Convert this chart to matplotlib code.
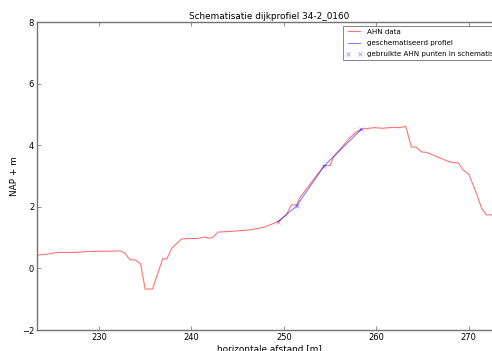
import matplotlib
matplotlib.use("Agg")
import matplotlib.pyplot as plt

# AHN profile
ahn_x = [223.3, 224.5, 225.6, 227.5, 229.0, 230.5, 231.5, 232.3, 232.8, 233.35, 233.9,
         234.5, 235.0, 235.8, 236.9, 237.35, 237.9, 238.9, 239.5, 240.6, 241.5, 241.8,
         242.3, 242.9, 244.2, 246.3, 247.8, 249.4, 250.3, 250.8, 251.4, 251.7, 253.0,
         254.4, 255.0, 255.4, 256.2, 257.1, 257.8, 258.4, 259.8, 260.7, 261.8, 262.5,
         263.2, 263.8, 264.3, 264.9, 265.4, 266.7, 268.0, 268.9, 269.4, 270.0, 270.7,
         271.4, 271.9, 272.4, 273.0]
ahn_y = [0.43, 0.47, 0.52, 0.52, 0.55, 0.56, 0.56, 0.57, 0.50, 0.28, 0.28,
         0.15, -0.67, -0.67, 0.31, 0.31, 0.66, 0.95, 0.97, 0.97, 1.02, 0.98,
         1.00, 1.18, 1.20, 1.25, 1.33, 1.52, 1.75, 2.06, 2.06, 2.28, 2.80,
         3.34, 3.34, 3.63, 3.90, 4.23, 4.42, 4.52, 4.57, 4.55, 4.58, 4.57,
         4.61, 3.94, 3.94, 3.78, 3.77, 3.61, 3.45, 3.42, 3.20, 3.06, 2.55,
         1.96, 1.74, 1.74, 1.65]

# schematised profile
schem_x = [249.4, 251.4, 254.4, 258.4]
schem_y = [1.52, 2.03, 3.34, 4.52]

fig = plt.figure(figsize=(4.92, 3.51), dpi=100)
ax = fig.add_axes([37/492, 21/351, 464/492, 308/351])

ax.plot(ahn_x, ahn_y, color='red', alpha=0.55, lw=0.8, label='AHN data')
ax.plot(schem_x, schem_y, color='blue', alpha=0.5, lw=0.8, label='geschematiseerd profiel')
ax.plot(schem_x, schem_y, 'x', color='blue', alpha=0.4, ms=3, mew=0.6,
        label='gebruikte AHN punten in schematisatie')

ax.set_xlim(223.3, 273.5)
ax.set_ylim(-2, 8)
ax.set_xticks([230, 240, 250, 260, 270])
ax.set_yticks([-2, 0, 2, 4, 6, 8])
ax.tick_params(direction='in', top=True, right=True, labelsize=6, length=3,
               width=0.5, color='0.4', pad=2)
for s in ax.spines.values():
    s.set_color('0.45')
    s.set_linewidth(1.0)

ax.set_title('Schematisatie dijkprofiel 34-2_0160', fontsize=6.4, pad=2)
ax.set_xlabel('horizontale afstand [m]', fontsize=6.4, labelpad=2)
ax.set_ylabel('NAP + m', fontsize=6.4, labelpad=2)

leg = ax.legend(loc='upper right', bbox_to_anchor=(1.02, 0.987), fontsize=5.1,
                numpoints=2, handlelength=2.2, fancybox=False, borderaxespad=0,
                labelspacing=0.75)
leg.get_frame().set_edgecolor('0.3')
leg.get_frame().set_linewidth(0.6)

fig.savefig('out.png', dpi=100)
